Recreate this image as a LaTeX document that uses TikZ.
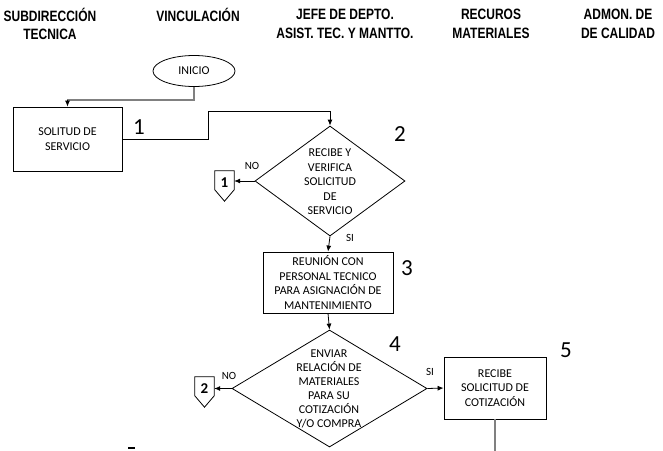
\documentclass[tikz,border=0pt]{standalone}
\usepackage{fontspec}
\setmainfont{Carlito}
\newfontfamily\headfont[FakeStretch=0.8]{Liberation Sans}
\usetikzlibrary{shapes.geometric,arrows.meta,calc}
\begin{document}
\begin{tikzpicture}[x=1pt,y=-1pt,
  hdr/.style={font=\headfont\bfseries\fontsize{15}{18.5}\selectfont, align=center, inner sep=0},
  txt/.style={font=\fontsize{12}{14.5}\selectfont, align=center, inner sep=0},
  proc/.style={draw, line width=0.8pt, inner sep=0, font=\fontsize{12}{14.5}\selectfont, align=center},
  decision/.style={diamond, draw, line width=0.8pt, inner sep=0},
  num/.style={font=\fontsize{23}{23}\selectfont, inner sep=0},
  lbl/.style={font=\fontsize{11}{12}\selectfont, inner sep=0},
  opage/.style={minimum width=19pt, minimum height=30pt, inner sep=0},
  opnum/.style={font=\bfseries\fontsize{15}{15}\selectfont, inner sep=0},
  conn/.style={line width=0.8pt, -{Latex[length=6pt,width=5pt]}},
  gconn/.style={draw=black!50, line width=2pt},
]
\useasboundingbox (0,0) rectangle (663,450);
% headers
\node[hdr] (h1) at (50,24) {SUBDIRECCIÓN\\TECNICA};
\node[hdr] (h2) at (198,15) {VINCULACIÓN};
\node[hdr] (h3) at (345,24) {JEFE DE DEPTO.\\ASIST. TEC. Y MANTTO.};
\node[hdr] (h4) at (491,24) {RECUROS\\MATERIALES};
\node[hdr] (h5) at (618,24) {ADMON. DE\\DE CALIDAD};
% shapes
\node[ellipse, draw, line width=0.8pt, minimum width=82pt, minimum height=31pt, inner sep=0, font=\fontsize{12}{14}\selectfont] (ini) at (194,71) {INICIO};
\node[proc, minimum width=109pt, minimum height=64pt] (b1) at (67.5,139) {SOLITUD DE\\SERVICIO};
\node[num] (n1) at (139,127) {1};
\node[decision, minimum width=150pt, minimum height=110pt] (d2) at (330,181) {};
\node[txt] (d2t) at (330,182) {RECIBE Y\\VERIFICA\\SOLICITUD\\DE\\SERVICIO};
\node[num] (n2) at (400,134) {2};
\node[lbl] (no1) at (252,166) {NO};
\node[opage] (c1) at (224.5,186) {};
\draw[line width=0.8pt] (c1.north west) -- (c1.north east) -- ([yshift=-19pt]c1.north east) -- (c1.south) -- ([yshift=-19pt]c1.north west) -- cycle;
\node[opnum] (c1t) at (224.5,183) {1};
\node[lbl] (si1) at (350,238) {SI};
\node[proc, minimum width=130pt, minimum height=61pt] (b3) at (328,282.5) {REUNIÓN CON\\PERSONAL TECNICO\\PARA ASIGNACIÓN DE\\MANTENIMIENTO};
\node[num] (n3) at (407,268) {3};
\node[decision, minimum width=195pt, minimum height=117pt] (d4) at (329.5,388.5) {};
\node[txt, font=\fontsize{12}{14}\selectfont] (d4t) at (329,389) {ENVIAR\\RELACIÓN DE\\MATERIALES\\PARA SU\\COTIZACIÓN\\Y/O COMPRA};
\node[num] (n4) at (395,344) {4};
\node[lbl] (no2) at (229,376) {NO};
\node[opage] (c2) at (204.5,392) {};
\draw[line width=0.8pt] (c2.north west) -- (c2.north east) -- ([yshift=-19pt]c2.north east) -- (c2.south) -- ([yshift=-19pt]c2.north west) -- cycle;
\node[opnum] (c2t) at (204.5,389) {2};
\node[lbl] (si2) at (430,372) {SI};
\node[proc, minimum width=102pt, minimum height=62pt] (b5) at (495,388) {RECIBE\\SOLICITUD DE\\COTIZACIÓN};
\node[num] (n5) at (566,350) {5};
% fragment of a cut-off mark at the bottom edge
\fill (128,446.5) rectangle (135,449);
% connectors
\draw[gconn] (ini.south) -- ++(0,13.5) -| ($(b1.north)+(0,-6)$);
\draw[conn] ($(b1.north)+(0,-7)$) -- (b1.north);
\draw[conn] (b1.east) -- ++(86,0) |- ($(d2.north)+(0,-14)$) -- (d2.north);
\draw[conn] (d2.west) -- (d2.west -| c1.east);
\draw[conn] (d2.south) -- (b3.north);
\draw[conn] (b3.south) -- (d4.north);
\draw[conn] (d4.west) -- (d4.west -| c2.east);
\draw[conn] (d4.east) -- (b5.west);
\coordinate (b5end) at ($(b5.south)+(0,40)$);
\draw[gconn] (b5.south) -- (b5end);
\end{tikzpicture}
\end{document}
